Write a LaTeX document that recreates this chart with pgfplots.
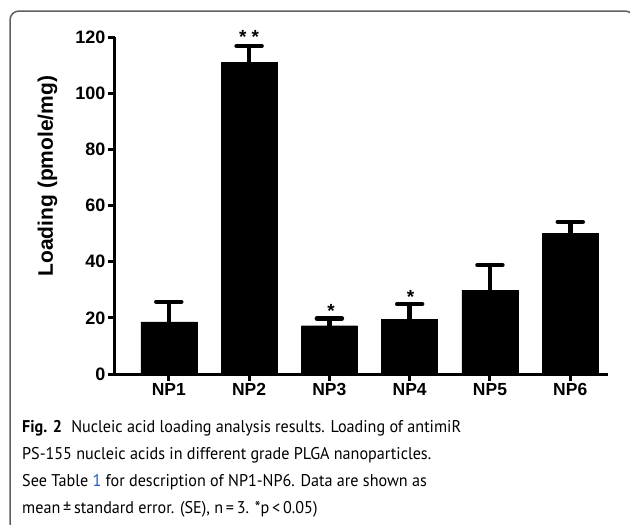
\documentclass[border=0pt]{standalone}
\usepackage{pgfplots}
\pgfplotsset{compat=1.18}
\usepackage{fontspec}
\setmainfont{Liberation Sans}
\newfontfamily\capfont[FakeStretch=0.95]{PT Sans}
\definecolor{linkblue}{RGB}{30,90,200}
\definecolor{framegray}{RGB}{95,95,95}

\begin{document}
\begin{tikzpicture}
\useasboundingbox (0pt,0pt) rectangle (630pt,-525pt);
\begin{scope}
\clip (0pt,0pt) rectangle (630pt,-525pt);
\draw[framegray, line width=1.5pt, rounded corners=9pt] (10pt,-532pt) rectangle (634pt,-11pt);
\end{scope}
\begin{axis}[
  at={(115pt,-374pt)}, anchor=south west,
  scale only axis, width=493pt, height=337pt,
  xmin=-0.67, xmax=5.47, ymin=0, ymax=120,
  axis lines=left,
  axis line style={line width=3pt, -, black},
  xtick={0,1,2,3,4,5},
  xticklabels={NP1,NP2,NP3,NP4,NP5,NP6},
  ytick={0,20,40,60,80,100,120},
  tick align=outside,
  major tick length=7pt,
  tick style={line width=3pt, black},
  x tick label style={font=\bfseries\fontsize{17.5}{17.5}\selectfont, yshift=1pt},
  y tick label style={font=\bfseries\fontsize{18}{18}\selectfont, xshift=1pt},
  /pgf/number format/assume math mode=true,
  ylabel={Loading (pmole/mg)},
  ylabel style={font=\bfseries\fontsize{21}{21}\selectfont, at={(axis description cs:-0.137,0.5875)}, anchor=center},
  clip=false,
]
\addplot[ybar, bar width=56pt, fill=black, draw=black,
  error bars/.cd, y dir=plus, y explicit,
  error bar style={line width=4.5pt, black},
  error mark options={rotate=90, mark size=12.5pt, line width=4.5pt, line cap=round, black}]
coordinates {
(0,18.6) +- (0,7.1)
(1,110.9) +- (0,5.9)
(2,17.2) +- (0,2.6)
(3,19.5) +- (0,5.4)
(4,29.9) +- (0,8.9)
(5,50.2) +- (0,4.0)
};
\node[anchor=base, inner sep=0pt, font=\bfseries\fontsize{19}{19}\selectfont] at (axis cs:1,117.8) {* *};
\node[anchor=base, inner sep=0pt, font=\bfseries\fontsize{19}{19}\selectfont] at (axis cs:2.02,20.0) {*};
\node[anchor=base, inner sep=0pt, font=\bfseries\fontsize{19}{19}\selectfont] at (axis cs:3.01,25.0) {*};
\end{axis}
\begin{scope}[every node/.style={anchor=base west, inner sep=0pt, font=\capfont\fontsize{17}{17}\selectfont}]
\node at (22pt,-432pt) {\textbf{Fig. 2}\hspace{0.55em}Nucleic acid loading analysis results. Loading of antimiR};
\node at (22pt,-459pt) {PS-155 nucleic acids in different grade PLGA nanoparticles.};
\node at (22pt,-486pt) {See Table \textcolor{linkblue}{1} for description of NP1-NP6. Data are shown as};
\node at (22pt,-513pt) {mean\thinspace±\thinspace standard error. (SE), n\thinspace=\thinspace3. *p\thinspace<\thinspace0.05)};
\end{scope}
\end{tikzpicture}
\end{document}
